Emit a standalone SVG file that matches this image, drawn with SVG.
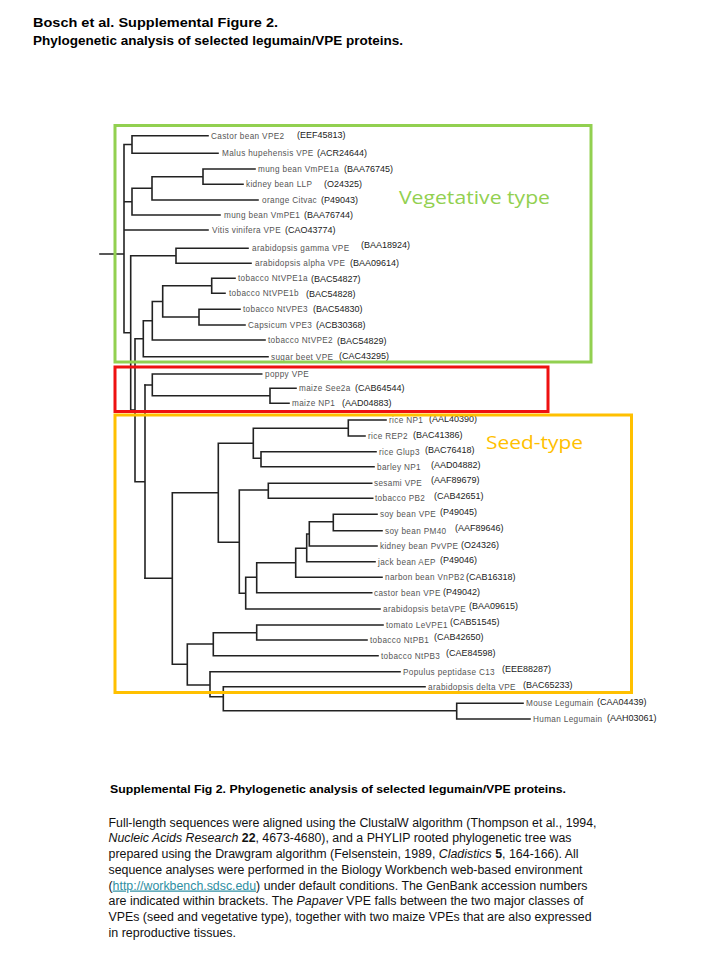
<svg xmlns="http://www.w3.org/2000/svg" width="720" height="960" viewBox="0 0 720 960">
<style>
.t{font-family:"Liberation Sans",Arial,sans-serif;font-weight:bold;fill:#000}
.lb{font-family:"Liberation Sans",Arial,sans-serif;font-size:8.2px;letter-spacing:.35px;fill:#555}
.ac{font-family:"Liberation Sans",Arial,sans-serif;font-size:9px;fill:#222}
.cap{font-family:"Liberation Sans",Arial,sans-serif;font-size:12.3px;fill:#111}
.edge{fill:none;stroke:#222;stroke-width:1.6;stroke-linecap:square}
.box{fill:none;stroke-width:3}
</style>
<rect width="720" height="960" fill="#fff"/>
<g id="title">
<text class="t" x="33" y="27" font-size="13" textLength="245" lengthAdjust="spacingAndGlyphs">Bosch et al. Supplemental Figure 2.</text>
<text class="t" x="33" y="45" font-size="13" textLength="370" lengthAdjust="spacingAndGlyphs">Phylogenetic analysis of selected legumain/VPE proteins.</text>
</g>
<g id="connectors">
<path class="edge" d="M132 135.7H208M132 153.3H218M132 135.7V153.3M124 144.5H132M203 169H255M203 184.3H243M203 169V184.3M152 176.7H203M152 200H258M152 176.7V200M132 188.3H152M132 215H220M132 188.3V215M124 201.7H132M124 230H208M124 144.5V332.7M100 254H124M176 248.3H248M176 263.3H251M176 248.3V263.3M130.7 255.8H176M130.7 255.8V410M124 332.7H130.7M211.7 278.3H235M211.7 293.3H225M211.7 278.3V293.3M162.7 285.8H211.7M199 309.3H240M199 325H245M199 309.3V325M162.7 317H199M162.7 285.8V317M152.3 301.5H162.7M152.3 340H265M152.3 301.5V340M143.3 320.7H152.3M143.3 356.7H268M143.3 320.7V356.7M135 338.7H143.3M135 338.7V481.7M130.7 410H135M145 385V578.3M135 481.7H145"/>
<path class="edge" d="M152.3 374H261.7M152.3 374V395.7M145 385H152.3M152.3 395.7H270M270 388.3V403.3M270 388.3H296M270 403.3H289"/>
<path class="edge" d="M172.3 492.7V664.3M145 578.3H172.3M218.3 443.3V542.3M172.3 492.7H218.3M253.3 428.3V458.3M218.3 443.3H253.3M348.3 420V436M253.3 428.3H348.3M348.3 420H386M348.3 436H365M261 451.7V466.7M253.3 458.3H261M261 451.7H376M261 466.7H374M239.3 490V593.3M218.3 542.3H239.3M268.3 483.3V498.3M239.3 490H268.3M268.3 483.3H371.7M268.3 498.3H372.7M245.7 577.3V609M239.3 593.3H245.7M245.7 609H380M256.7 562.7V592.7M245.7 577.3H256.7M256.7 592.7H371.7M295.7 548.3V577.3M256.7 562.7H295.7M295.7 577.3H382M306.7 534V561.7M295.7 548.3H306.7M306.7 561.7H375M309.3 521.7V546M306.7 534H309.3M309.3 546H377M333.3 514.3V530.7M309.3 521.7H333.3M333.3 514.3H377M333.3 530.7H382M187.3 644V685M172.3 664.3H187.3M213.3 632.7V655.7M187.3 644H213.3M213.3 655.7H378M256.7 625V640M213.3 632.7H256.7M256.7 625H383M256.7 640H367M210 671.7V696.7M187.3 685H210M210 671.7H400M223.3 686.7V710.7M210 696.7H223.3M223.3 686.7H425M456.7 703.3V719M223.3 710.7H456.7M456.7 703.3H523M456.7 719H530"/>
</g>
<g id="leaves-vegetative">
<g id="castor_vpe2"><text class="lb" x="211" y="138.7">Castor bean VPE2</text><text class="ac" x="297" y="138.3">(EEF45813)</text></g>
<g id="malus_vpe"><text class="lb" x="222" y="156.3">Malus hupehensis VPE</text><text class="ac" x="317" y="155.5">(ACR24644)</text></g>
<g id="mung_vmpe1a"><text class="lb" x="258" y="172">mung bean VmPE1a</text><text class="ac" x="344" y="171.5">(BAA76745)</text></g>
<g id="kidney_llp"><text class="lb" x="246" y="187.3">kidney bean LLP</text><text class="ac" x="324" y="187.3">(O24325)</text></g>
<g id="orange_citvac"><text class="lb" x="262" y="203">orange Citvac</text><text class="ac" x="321" y="202.5">(P49043)</text></g>
<g id="mung_vmpe1"><text class="lb" x="224" y="218">mung bean VmPE1</text><text class="ac" x="304" y="217.5">(BAA76744)</text></g>
<g id="vitis_vpe"><text class="lb" x="212" y="233">Vitis vinifera VPE</text><text class="ac" x="285" y="232.5">(CAO43774)</text></g>
<g id="arab_gamma"><text class="lb" x="252" y="251.3">arabidopsis gamma VPE</text><text class="ac" x="361" y="247.5">(BAA18924)</text></g>
<g id="arab_alpha"><text class="lb" x="255" y="266.3">arabidopsis alpha VPE</text><text class="ac" x="350" y="265.5">(BAA09614)</text></g>
<g id="tob_ntvpe1a"><text class="lb" x="238" y="281.3">tobacco NtVPE1a</text><text class="ac" x="311" y="282.3">(BAC54827)</text></g>
<g id="tob_ntvpe1b"><text class="lb" x="229" y="296.3">tobacco NtVPE1b</text><text class="ac" x="306" y="297.3">(BAC54828)</text></g>
<g id="tob_ntvpe3"><text class="lb" x="243" y="312.3">tobacco NtVPE3</text><text class="ac" x="313" y="312.3">(BAC54830)</text></g>
<g id="capsicum_vpe3"><text class="lb" x="248" y="328">Capsicum VPE3</text><text class="ac" x="316" y="328.3">(ACB30368)</text></g>
<g id="tob_ntvpe2"><text class="lb" x="268" y="343">tobacco NtVPE2</text><text class="ac" x="337" y="344.3">(BAC54829)</text></g>
<g id="sugar_beet_vpe"><text class="lb" x="271" y="359.7">sugar beet VPE</text><text class="ac" x="339" y="359.3">(CAC43295)</text></g>
</g>
<g id="leaves-intermediate">
<g id="poppy_vpe"><text class="lb" x="265" y="377">poppy VPE</text></g>
<g id="maize_see2a"><text class="lb" x="299" y="391.3">maize See2a</text><text class="ac" x="355" y="391.3">(CAB64544)</text></g>
<g id="maize_np1"><text class="lb" x="292" y="406.3">maize NP1</text><text class="ac" x="342" y="406.3">(AAD04883)</text></g>
</g>
<g id="leaves-seed">
<g id="rice_np1"><text class="lb" x="389" y="423">rice NP1</text><text class="ac" x="429" y="422.3">(AAL40390)</text></g>
<g id="rice_rep2"><text class="lb" x="368" y="439">rice REP2</text><text class="ac" x="413" y="438.3">(BAC41386)</text></g>
<g id="rice_glup3"><text class="lb" x="379" y="454.7">rice Glup3</text><text class="ac" x="425" y="453.3">(BAC76418)</text></g>
<g id="barley_np1"><text class="lb" x="377" y="469.7">barley NP1</text><text class="ac" x="431" y="468.3">(AAD04882)</text></g>
<g id="sesami_vpe"><text class="lb" x="374" y="486.3">sesami VPE</text><text class="ac" x="431" y="483.3">(AAF89679)</text></g>
<g id="tobacco_pb2"><text class="lb" x="375" y="501.3">tobacco PB2</text><text class="ac" x="434" y="499.3">(CAB42651)</text></g>
<g id="soy_vpe"><text class="lb" x="380" y="517.3">soy bean VPE</text><text class="ac" x="440" y="515.3">(P49045)</text></g>
<g id="soy_pm40"><text class="lb" x="385" y="533.7">soy bean PM40</text><text class="ac" x="455" y="531.3">(AAF89646)</text></g>
<g id="kidney_pvvpe"><text class="lb" x="380" y="549">kidney bean PvVPE</text><text class="ac" x="461" y="548.3">(O24326)</text></g>
<g id="jack_aep"><text class="lb" x="378" y="564.7">jack bean AEP</text><text class="ac" x="440" y="563.3">(P49046)</text></g>
<g id="narbon_vnpb2"><text class="lb" x="385" y="580.3">narbon bean VnPB2</text><text class="ac" x="466" y="580.3">(CAB16318)</text></g>
<g id="castor_vpe"><text class="lb" x="374" y="595.7">castor bean VPE</text><text class="ac" x="443" y="595.3">(P49042)</text></g>
<g id="arab_beta"><text class="lb" x="383" y="612">arabidopsis betaVPE</text><text class="ac" x="469" y="609.3">(BAA09615)</text></g>
<g id="tomato_levpe1"><text class="lb" x="386" y="628">tomato LeVPE1</text><text class="ac" x="450" y="625.3">(CAB51545)</text></g>
<g id="tobacco_ntpb1"><text class="lb" x="370" y="643">tobacco NtPB1</text><text class="ac" x="434" y="640.3">(CAB42650)</text></g>
<g id="tobacco_ntpb3"><text class="lb" x="381" y="658.7">tobacco NtPB3</text><text class="ac" x="446" y="656.3">(CAE84598)</text></g>
<g id="populus_c13"><text class="lb" x="403" y="674.7">Populus peptidase C13</text><text class="ac" x="502" y="672.3">(EEE88287)</text></g>
<g id="arab_delta"><text class="lb" x="428" y="689.7">arabidopsis delta VPE</text><text class="ac" x="523" y="688.3">(BAC65233)</text></g>
</g>
<g id="leaves-outgroup">
<g id="mouse_legumain"><text class="lb" x="526" y="706.3">Mouse Legumain</text><text class="ac" x="597" y="705.3">(CAA04439)</text></g>
<g id="human_legumain"><text class="lb" x="533" y="722">Human Legumain</text><text class="ac" x="607" y="721.3">(AAH03061)</text></g>
</g>
<g id="groups">
<g id="vegetative_box"><rect class="box" x="115" y="125.5" width="476" height="236.5" stroke="#92D050"/><text x="399" y="203.5" font-family="'Open Sans','Liberation Sans',sans-serif" font-size="18" fill="#92D050" textLength="151" lengthAdjust="spacingAndGlyphs">Vegetative type</text></g>
<g id="intermediate_box"><rect class="box" x="115" y="367" width="433" height="44.5" stroke="#EE1111"/></g>
<g id="seed_box"><rect class="box" x="115" y="415" width="516.5" height="277.5" stroke="#FFC000"/><text x="486" y="449" font-family="'Open Sans','Liberation Sans',sans-serif" font-size="18" fill="#FFC000" textLength="97" lengthAdjust="spacingAndGlyphs">Seed-type</text></g>
</g>
<g id="caption">
<text class="t" x="110" y="793" font-size="11.5" textLength="456" lengthAdjust="spacingAndGlyphs">Supplemental Fig 2. Phylogenetic analysis of selected legumain/VPE proteins.</text>
<text class="cap" x="108.5" y="826.7" textLength="488" lengthAdjust="spacingAndGlyphs">Full-length sequences were aligned using the ClustalW algorithm (Thompson et al., 1994,</text>
<text class="cap" x="108.5" y="842.4" textLength="463" lengthAdjust="spacingAndGlyphs"><tspan font-style="italic">Nucleic Acids Research</tspan> <tspan font-weight="bold">22</tspan>, 4673-4680),  and a PHYLIP rooted phylogenetic tree was</text>
<text class="cap" x="108.5" y="858.1" textLength="470" lengthAdjust="spacingAndGlyphs">prepared using the Drawgram algorithm (Felsenstein, 1989, <tspan font-style="italic">Cladistics</tspan> <tspan font-weight="bold">5</tspan>, 164-166).  All</text>
<text class="cap" x="108.5" y="873.8" textLength="474" lengthAdjust="spacingAndGlyphs">sequence analyses were performed in the Biology Workbench web-based environment</text>
<text class="cap" x="108.5" y="889.5" textLength="479" lengthAdjust="spacingAndGlyphs">(<tspan fill="#2f8fa3" text-decoration="underline">http://workbench.sdsc.edu</tspan>) under default conditions. The GenBank accession numbers</text>
<text class="cap" x="108.5" y="905.2" textLength="475" lengthAdjust="spacingAndGlyphs">are indicated within brackets. The <tspan font-style="italic">Papaver</tspan> VPE falls between the two major classes of</text>
<text class="cap" x="108.5" y="920.9" textLength="483" lengthAdjust="spacingAndGlyphs">VPEs (seed and vegetative type), together with two maize VPEs that are also expressed</text>
<text class="cap" x="108.5" y="936.6" textLength="127.5" lengthAdjust="spacingAndGlyphs">in reproductive tissues.</text>
</g>
</svg>
